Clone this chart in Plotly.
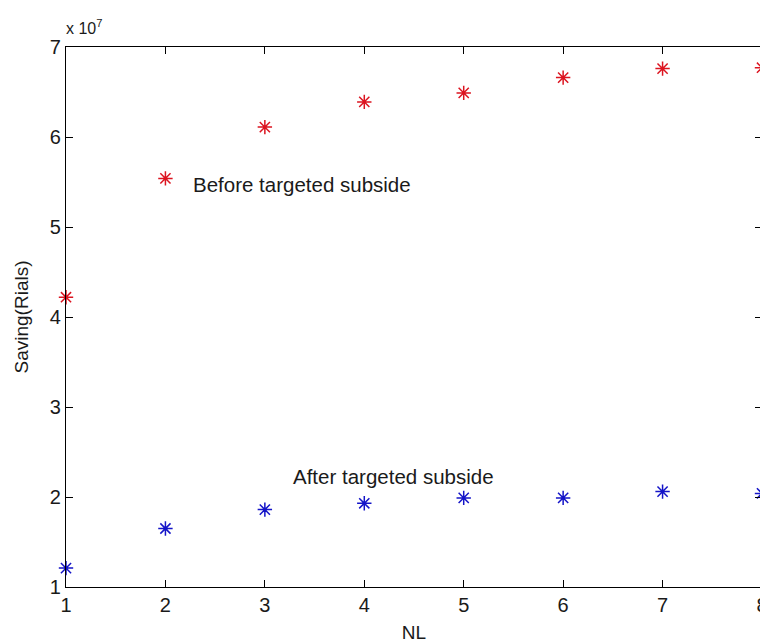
import plotly.graph_objects as go

nl = [1, 2, 3, 4, 5, 6, 7, 8]
before_subsidy = [4.22e7, 5.54e7, 6.11e7, 6.39e7, 6.49e7, 6.66e7, 6.76e7, 6.77e7]
after_subsidy = [1.21e7, 1.65e7, 1.86e7, 1.93e7, 1.99e7, 1.99e7, 2.06e7, 2.04e7]
y_ticks = [1e7, 2e7, 3e7, 4e7, 5e7, 6e7, 7e7]
y_tick_labels = ["1", "2", "3", "4", "5", "6", "7"]
x_ticks = [1, 2, 3, 4, 5, 6, 7, 8]

FONT = "Liberation Sans, Arial, sans-serif"
TXT = "#1a1a1a"
RED = "#dc1420"
BLUE = "#1414c8"

fig = go.Figure()
fig.add_trace(go.Scatter(
    x=nl, y=before_subsidy, mode="markers",
    marker=dict(symbol="asterisk-open", size=12, color=RED, line=dict(color=RED, width=1.5)),
    name="Before targeted subside", cliponaxis=False))
fig.add_trace(go.Scatter(
    x=nl, y=after_subsidy, mode="markers",
    marker=dict(symbol="asterisk-open", size=12, color=BLUE, line=dict(color=BLUE, width=1.5)),
    name="After targeted subside", cliponaxis=False))

fig.add_annotation(x=2.26, y=5.47e7, text="Before targeted subside", showarrow=False,
                   xanchor="left", yanchor="middle", font=dict(family=FONT, size=20.5, color=TXT))
fig.add_annotation(x=3.26, y=2.23e7, text="After targeted subside", showarrow=False,
                   xanchor="left", yanchor="middle", font=dict(family=FONT, size=20.5, color=TXT))
fig.add_annotation(x=0.0, y=1.0, xref="paper", yref="paper", text="x 10<sup>7</sup>",
                   showarrow=False, xanchor="left", yanchor="bottom", yshift=8, xshift=-2,
                   font=dict(family=FONT, size=16, color=TXT))

axis_common = dict(showgrid=False, zeroline=False, showline=True, linecolor="black", linewidth=1.2,
                   mirror="ticks", ticks="inside", ticklen=7, tickcolor="black", tickwidth=1.2,
                   automargin=False, tickfont=dict(family=FONT, size=20, color=TXT))

fig.update_xaxes(range=[1, 8], tickvals=x_ticks,
                 title=dict(text="NL", font=dict(family=FONT, size=19, color=TXT), standoff=14),
                 **axis_common)
fig.update_yaxes(range=[1e7, 7e7], tickvals=y_ticks, ticktext=y_tick_labels,
                 title=dict(text="Saving(Rials)", font=dict(family=FONT, size=19, color=TXT), standoff=16),
                 **axis_common)

fig.update_layout(width=780, height=643, showlegend=False,
                  margin=dict(l=66, r=18, t=47, b=56),
                  plot_bgcolor="white", paper_bgcolor="white")

fig.write_html(
    "out.html",
    config={"displayModeBar": False},
    post_script="document.body.style.margin='0';document.body.style.overflow='hidden';"
                "document.documentElement.style.overflow='hidden';",
)
